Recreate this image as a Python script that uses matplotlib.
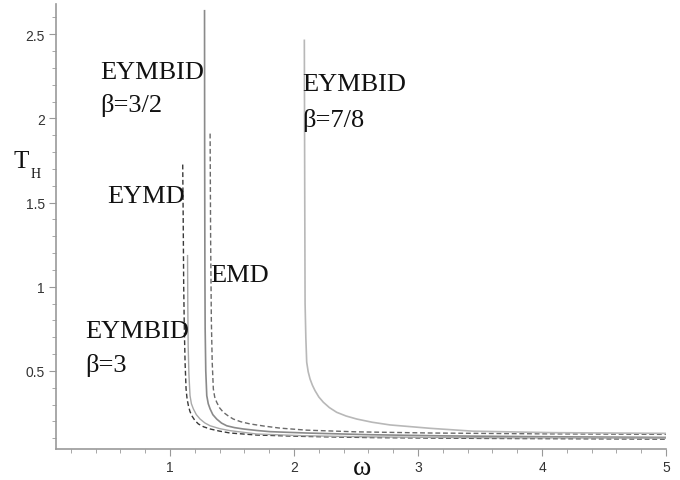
import numpy as np
import matplotlib.pyplot as plt
from matplotlib.ticker import MultipleLocator

# curves (omega, T_H)
w_b32 = [1.278, 1.279, 1.281, 1.283, 1.288, 1.296, 1.308, 1.323, 1.345, 1.376, 1.415, 1.457, 1.52, 1.59, 1.70, 1.806, 2.10, 2.6, 3.2, 4.0, 5.0]
t_b32 = [2.64, 1.80, 1.10, 0.75, 0.50, 0.353, 0.305, 0.274, 0.240, 0.214, 0.190, 0.174, 0.163, 0.155, 0.146, 0.139, 0.131, 0.121, 0.114, 0.109, 0.105]

w_emd = [1.323, 1.327, 1.333, 1.340, 1.349, 1.360, 1.376, 1.40, 1.43, 1.47, 1.51, 1.57, 1.645, 1.76, 1.887, 2.10, 2.5, 3.1, 4.0, 5.0]
t_emd = [1.91, 1.30, 0.80, 0.55, 0.393, 0.345, 0.314, 0.280, 0.254, 0.232, 0.214, 0.198, 0.185, 0.172, 0.160, 0.148, 0.138, 0.131, 0.126, 0.123]

w_eymd = [1.102, 1.106, 1.110, 1.115, 1.121, 1.129, 1.137, 1.148, 1.160, 1.175, 1.20, 1.228, 1.27, 1.323, 1.40, 1.484, 1.70, 2.07, 2.6, 3.5, 5.0]
t_eymd = [1.726, 1.40, 1.00, 0.75, 0.552, 0.393, 0.335, 0.293, 0.260, 0.234, 0.206, 0.185, 0.168, 0.155, 0.142, 0.131, 0.119, 0.111, 0.104, 0.099, 0.095]

w_b3 = [1.141, 1.143, 1.146, 1.152, 1.161, 1.172, 1.188, 1.212, 1.242, 1.28, 1.323, 1.40, 1.484, 1.70, 2.07, 2.6, 3.5, 5.0]
t_b3 = [1.185, 0.90, 0.65, 0.48, 0.353, 0.305, 0.274, 0.240, 0.214, 0.191, 0.174, 0.157, 0.145, 0.125, 0.115, 0.108, 0.103, 0.100]

w_b78 = [2.083, 2.086, 2.089, 2.095, 2.102, 2.114, 2.129, 2.148, 2.169, 2.20, 2.236, 2.285, 2.344, 2.42, 2.506, 2.63, 2.774, 3.097, 3.44, 4.09, 5.0]
t_b78 = [2.464, 1.60, 0.90, 0.70, 0.552, 0.495, 0.452, 0.415, 0.383, 0.345, 0.314, 0.282, 0.254, 0.232, 0.214, 0.195, 0.179, 0.159, 0.142, 0.133, 0.129]

labels = [("EYMBID", 0.435, 2.238), ("β=3/2", 0.435, 2.042),
          ("EYMBID", 2.065, 2.167), ("β=7/8", 2.065, 1.958),
          ("EYMD", 0.492, 1.506),
          ("EMD", 1.323, 1.036),
          ("EYMBID", 0.315, 0.702), ("β=3", 0.315, 0.500)]

fig = plt.figure(figsize=(6.8, 4.81), dpi=100)
ax = fig.add_axes([56/680, 1-450/481, (666-56)/680, (450-5)/481])

dash = (0, (3.5, 2))
ax.plot(w_b32, t_b32, color='#8a8a8a', lw=1.2)
ax.plot(w_emd, t_emd, color='#6a6a6a', lw=1.0, linestyle=dash)
ax.plot(w_eymd, t_eymd, color='#3a3a3a', lw=1.0, linestyle=dash)
ax.plot(w_b3, t_b3, color='#a8a8a8', lw=1.0)
ax.plot(w_b78, t_b78, color='#b8b8b8', lw=1.2)

ax.set_xlim(0.08, 5.0)
ax.set_ylim(0.036, 2.68)
for s in ['top', 'right']:
    ax.spines[s].set_visible(False)
for s in ['left', 'bottom']:
    ax.spines[s].set_color('#999999')
    ax.spines[s].set_linewidth(1.2)

ax.xaxis.set_minor_locator(MultipleLocator(0.2))
ax.yaxis.set_minor_locator(MultipleLocator(0.1))
ax.set_yticks([0.5, 1, 1.5, 2, 2.5])
ax.set_yticklabels(['0.5', '1', '1.5', '2', '2.5'])
ax.set_xticks([1, 2, 3, 4, 5])
ax.set_xticklabels(['1', '2', '3', '4', '5'])
ax.tick_params(which='major', length=5, width=0.8, color='#999999', labelsize=10,
               labelcolor='#333333', pad=3)
ax.tick_params(which='minor', length=3, width=0.6, color='#999999')
for lab in ax.get_xticklabels() + ax.get_yticklabels():
    lab.set_family('Liberation Sans')

serif = 'Liberation Serif'
for txt, x, y in labels:
    ax.text(x, y, txt, fontsize=19, family=serif, color='#111111', va='baseline', ha='left')

# axis titles
fig.text(13/680, 1-168/481, 'T', fontsize=18, family=serif, color='#111111', va='baseline')
fig.text(31/680, 1-178/481, 'H', fontsize=10, family=serif, color='#111111', va='baseline')
fig.text(362/680, 1-475/481, 'ω', fontsize=20, family=serif, color='#111111', va='baseline', ha='center')

fig.savefig('out.png', dpi=100)
